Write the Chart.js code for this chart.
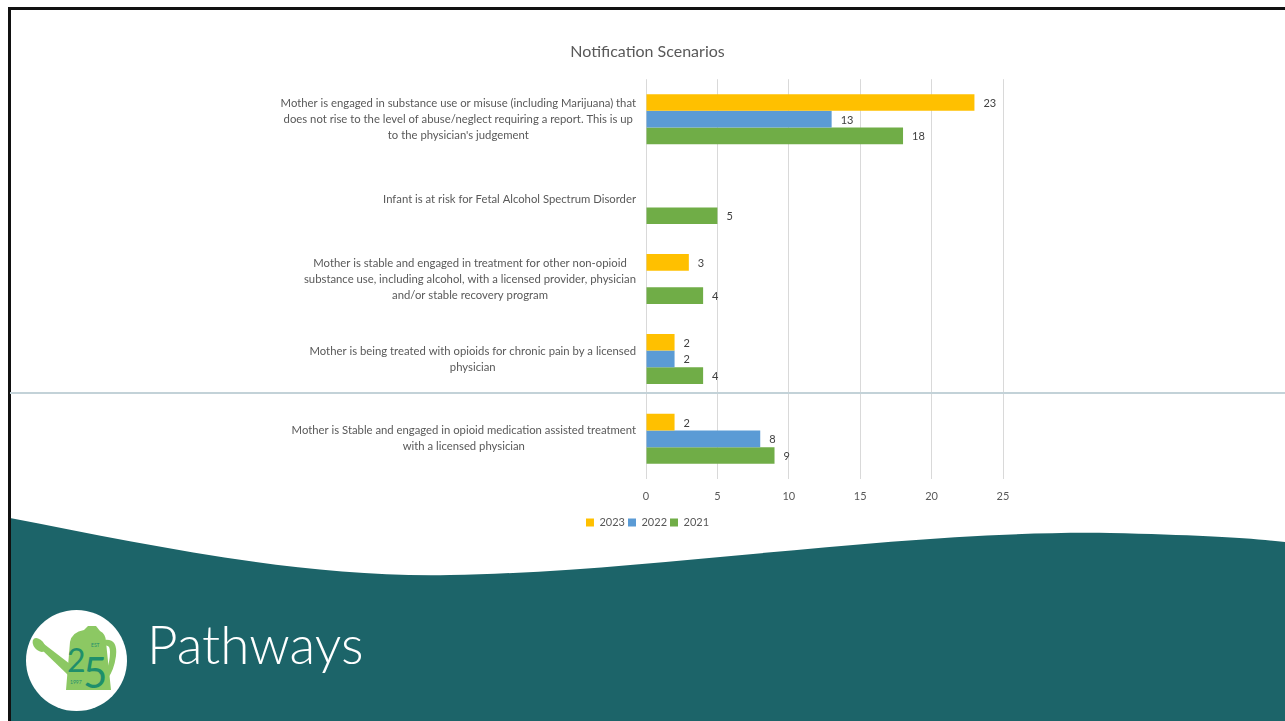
<!DOCTYPE html>
<html>
<head>
<meta charset="utf-8">
<script src="https://cdn.jsdelivr.net/npm/chart.js@4.4.0/dist/chart.umd.min.js"></script>
<style>
html, body { margin: 0; padding: 0; background: #fff; }
body { width: 1285px; height: 721px; position: relative; overflow: hidden; font-family: Lato, sans-serif; }
#deco { position: absolute; left: 0; top: 0; }
#frame { position: absolute; left: 8px; top: 7px; width: 1300px; height: 730px; border-left: 3px solid #111; border-top: 3px solid #111; box-sizing: border-box; }
#chartBox { position: absolute; left: 10px; top: 10px; width: 1275px; height: 528px; }
#rule { position: absolute; left: 10px; top: 392px; width: 1275px; height: 2px; background: #c3d2d8; }
</style>
</head>
<body>
<svg id="deco" width="1285" height="721" viewBox="0 0 1285 721">
  <!-- bandeau du bas -->
  <path d="M10 518 C150 545 300 578 450 575 C650 572 900 530 1110 533 C1200 535 1250 538 1285 542 L1285 721 L10 721 Z" fill="#1c6469"/>
  <!-- logo -->
  <circle cx="76.5" cy="660.5" r="50.5" fill="#fff"/>
  <g fill="#8cc863">
    <path d="M70 642 Q72 632 84 630 L88 626 L96 626 L100 631 Q106 634 106 642 L111 690 L66 690 Z"/>
    <path d="M104 640 Q118 638 116 656 Q114 670 108 678 L106 672 Q110 662 110 652 Q110 644 104 646 Z"/>
    <path d="M70 664 L44 644 L41 649 L68 675 Z"/>
    <ellipse cx="39" cy="645" rx="5" ry="8" transform="rotate(-40 39 645)"/>
  </g>
  <text x="67" y="672" font-family="Lato" font-size="32" fill="#1f8f6b">2</text>
  <text x="83" y="688" font-family="Lato" font-size="42" fill="#1f8f6b">5</text>
  <text x="91" y="647" font-family="Lato" font-size="5" fill="#1f8f6b">EST</text>
  <text x="70" y="684" font-family="Lato" font-size="5" fill="#1f8f6b">1997</text>
  <text x="147" y="664" font-family="Lato" font-weight="300" font-size="53" fill="#ffffff">Pathways</text>
</svg>
<div id="frame"></div>
<div id="chartBox"><canvas id="scenarioChart"></canvas></div>
<div id="rule"></div>
<script>
/* ===== Notification Scenarios ===== */
const categories = [
    ['Mother is engaged in substance use or misuse (including Marijuana) that',
     'does not rise to the level of abuse/neglect requiring a report. This is up',
     'to the physician\'s judgement'],
    ['Infant is at risk for Fetal Alcohol Spectrum Disorder'],
    ['Mother is stable and engaged in treatment for other non-opioid',
     'substance use, including alcohol, with a licensed provider, physician',
     'and/or stable recovery program'],
    ['Mother is being treated with opioids for chronic pain by a licensed',
     'physician'],
    ['Mother is Stable and engaged in opioid medication assisted treatment',
     'with a licensed physician']
];
const seriesNames = ['2023', '2022', '2021'];
const values2023 = [23, null, 3, 2, 2];
const values2022 = [13, null, null, 2, 8];
const values2021 = [18, 5, 4, 4, 9];
const xTicks = [0, 5, 10, 15, 20, 25];

const seriesColors = ['#ffc000', '#5b9bd5', '#70ad47'];
const labelFont = '11.3px Lato';

// Etiquettes des catégories : bloc aligné à droite, lignes centrées
const categoryLabels = {
    id: 'categoryLabels',
    afterDraw(chart) {
        const ctx = chart.ctx;
        const yScale = chart.scales.y;
        const right = chart.chartArea.left - 10;
        ctx.save();
        ctx.font = labelFont;
        ctx.fillStyle = '#595959';
        ctx.textAlign = 'center';
        ctx.textBaseline = 'middle';
        categories.forEach((lines, i) => {
            const cy = yScale.getPixelForValue(i);
            const w = Math.max(...lines.map(l => ctx.measureText(l).width));
            const cx = right - w / 2;
            lines.forEach((l, k) => {
                ctx.fillText(l, cx, cy + (k - (lines.length - 1) / 2) * 16);
            });
        });
        ctx.restore();
    }
};

// Valeurs au bout des barres
const valueLabels = {
    id: 'valueLabels',
    afterDatasetsDraw(chart) {
        const ctx = chart.ctx;
        ctx.save();
        ctx.font = '11px Lato';
        ctx.fillStyle = '#404040';
        ctx.textAlign = 'left';
        ctx.textBaseline = 'middle';
        chart.data.datasets.forEach((ds, di) => {
            chart.getDatasetMeta(di).data.forEach((bar, i) => {
                if (ds.data[i] == null) return;
                ctx.fillText(String(ds.data[i]), bar.x + 9, bar.y + 1);
            });
        });
        ctx.restore();
    }
};

new Chart(document.getElementById('scenarioChart'), {
    type: 'bar',
    data: {
        labels: categories,
        datasets: [values2023, values2022, values2021].map((vals, i) => ({
            label: seriesNames[i],
            data: vals,
            backgroundColor: seriesColors[i],
            borderWidth: 0,
            categoryPercentage: 0.625,
            barPercentage: 1
        }))
    },
    options: {
        indexAxis: 'y',
        responsive: true,
        maintainAspectRatio: false,
        animation: false,
        layout: { padding: 0 },
        plugins: {
            title: {
                display: true,
                text: 'Notification Scenarios',
                color: '#595959',
                font: { family: 'Lato', size: 16, weight: 'normal' },
                padding: { top: 32, bottom: 18 }
            },
            legend: {
                position: 'bottom',
                labels: {
                    color: '#595959',
                    font: { family: 'Lato', size: 11 },
                    boxWidth: 8,
                    boxHeight: 8,
                    padding: 3
                }
            },
            tooltip: { enabled: false }
        },
        scales: {
            x: {
                min: xTicks[0],
                max: xTicks[xTicks.length - 1],
                afterBuildTicks: s => { s.ticks = xTicks.map(v => ({ value: v })); },
                ticks: {
                    color: '#595959',
                    font: { family: 'Lato', size: 11 },
                    padding: 11
                },
                grid: { color: '#d9d9d9', drawTicks: false },
                border: { display: false }
            },
            y: {
                ticks: { display: false },
                grid: { display: false },
                border: { display: false },
                afterFit: s => { s.width = 636; }
            },
            y2: {
                type: 'category',
                position: 'right',
                ticks: { display: false },
                grid: { display: false },
                border: { display: false },
                afterFit: s => { s.width = 282; }
            }
        }
    },
    plugins: [categoryLabels, valueLabels]
});
</script>
</body>
</html>
